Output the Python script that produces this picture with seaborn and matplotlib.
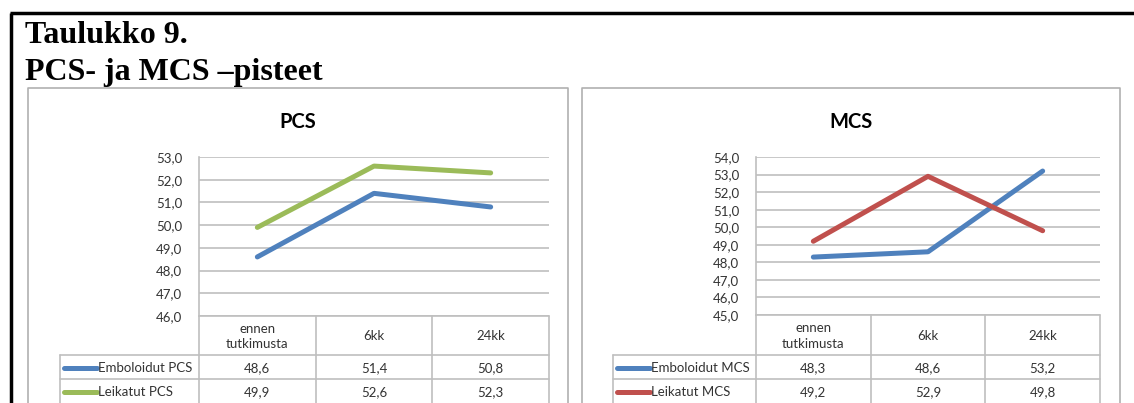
import pandas as pd
import matplotlib
matplotlib.use('Agg')
import matplotlib.pyplot as plt
import seaborn as sns
from matplotlib.ticker import FuncFormatter

# data
categories = ['ennen\ntutkimusta', '6kk', '24kk']
pcs_emboloidut = [48.6, 51.4, 50.8]
pcs_leikatut = [49.9, 52.6, 52.3]
mcs_emboloidut = [48.3, 48.6, 53.2]
mcs_leikatut = [49.2, 52.9, 49.8]

W, H = 1134, 403
sns.set_theme(style='white')
plt.rcParams['font.family'] = ['Lato', 'DejaVu Sans']

fig = plt.figure(figsize=(W / 100, H / 100), dpi=100)

# background layer in pixel coordinates
bg = fig.add_axes([0, 0, 1, 1], zorder=0)
bg.set_xlim(0, W)
bg.set_ylim(H, 0)
bg.axis('off')

# outer frame + heading
bg.plot([10, W], [13, 13], color='black', lw=2.5, solid_capstyle='butt')
bg.plot([11, 11], [13, H], color='black', lw=2.5, solid_capstyle='butt')
bg.text(25, 43, 'Taulukko 9.', family='Liberation Serif', weight='bold',
        fontsize=23, ha='left', va='baseline', color='black')
bg.text(25, 80, 'PCS- ja MCS –pisteet', family='Liberation Serif', weight='bold',
        fontsize=23, ha='left', va='baseline', color='black')


def fmt(v):
    return f'{v:.1f}'.replace('.', ',')


grid_c = '#BFBFBF'
txt_c = '#333333'
fs = 9.5
charts = [
    dict(title='PCS', box=(28, 88, 568), plot=(199, 157, 549, 316), ylim=(46, 53),
         leg_x=60, names=['Emboloidut PCS', 'Leikatut PCS'],
         values=[pcs_emboloidut, pcs_leikatut], colors=['#4F81BD', '#9BBB59']),
    dict(title='MCS', box=(582, 88, 1120), plot=(756, 157, 1100, 315), ylim=(45, 54),
         leg_x=613, names=['Emboloidut MCS', 'Leikatut MCS'],
         values=[mcs_emboloidut, mcs_leikatut], colors=['#4F81BD', '#C0504D']),
]

for ch in charts:
    bl, bt, br = ch['box']
    # chart border
    bg.plot([bl, bl, br, br], [H + 5, bt, bt, H + 5], color='#B0B0B0', lw=1.2)

    l, t, r, b = ch['plot']
    bg.text((bl + br) / 2, 122, ch['title'], fontsize=14.5, weight='bold',
            ha='center', va='center', color='black')

    ax = fig.add_axes([l / W, 1 - b / H, (r - l) / W, (b - t) / H], zorder=1)
    ax.set_facecolor('none')
    df = pd.DataFrame({
        'pos': list(range(3)) * 2,
        'value': ch['values'][0] + ch['values'][1],
        'series': [ch['names'][0]] * 3 + [ch['names'][1]] * 3,
    })
    sns.lineplot(data=df, x='pos', y='value', hue='series', hue_order=ch['names'],
                 palette=ch['colors'], linewidth=3.6, legend=False, sort=False, ax=ax)
    for ln in ax.lines:
        ln.set_solid_capstyle('round')
        ln.set_solid_joinstyle('round')
    ax.set_xlim(-0.5, 2.5)
    ax.set_ylim(*ch['ylim'])
    ax.set_yticks(range(ch['ylim'][0], ch['ylim'][1] + 1))
    ax.yaxis.set_major_formatter(FuncFormatter(lambda v, p: fmt(v)))
    ax.tick_params(axis='y', length=0, pad=12, labelsize=fs, labelcolor=txt_c)
    ax.set_xticks([])
    ax.set_xlabel('')
    ax.set_ylabel('')
    ax.yaxis.grid(True, color=grid_c, lw=1.2)
    ax.set_axisbelow(True)
    for s in ['top', 'right', 'bottom']:
        ax.spines[s].set_visible(False)
    ax.spines['left'].set_color(grid_c)
    ax.spines['left'].set_linewidth(1.2)

    # data table below the plot
    cw = (r - l) / 3
    rows = [b, 355, 379, H]
    bg.plot([l, r], [b, b], color=grid_c, lw=1.2)
    bg.plot([ch['leg_x'], r], [355, 355], color=grid_c, lw=1.2)
    bg.plot([ch['leg_x'], r], [379, 379], color=grid_c, lw=1.2)
    bg.plot([ch['leg_x'], ch['leg_x']], [355, H], color=grid_c, lw=1.2)
    for i in range(4):
        bg.plot([l + i * cw, l + i * cw], [b, H], color=grid_c, lw=1.2)
    for i, cat in enumerate(categories):
        bg.text(l + (i + 0.5) * cw, (b + 355) / 2 + 1, cat, fontsize=fs,
                ha='center', va='center', color=txt_c, linespacing=1.3)
    for k in range(2):
        yc = (rows[k + 1] + rows[k + 2]) / 2 + 1
        x0 = ch['leg_x'] + 4
        bg.plot([x0, x0 + 33], [yc, yc], color=ch['colors'][k], lw=3.6,
                solid_capstyle='round')
        bg.text(x0 + 34, yc, ch['names'][k], fontsize=fs, ha='left', va='center',
                color=txt_c)
        for i, v in enumerate(ch['values'][k]):
            bg.text(l + (i + 0.5) * cw, yc, fmt(v), fontsize=fs, ha='center',
                    va='center', color=txt_c)

fig.savefig('out.png', dpi=100, facecolor='white')
